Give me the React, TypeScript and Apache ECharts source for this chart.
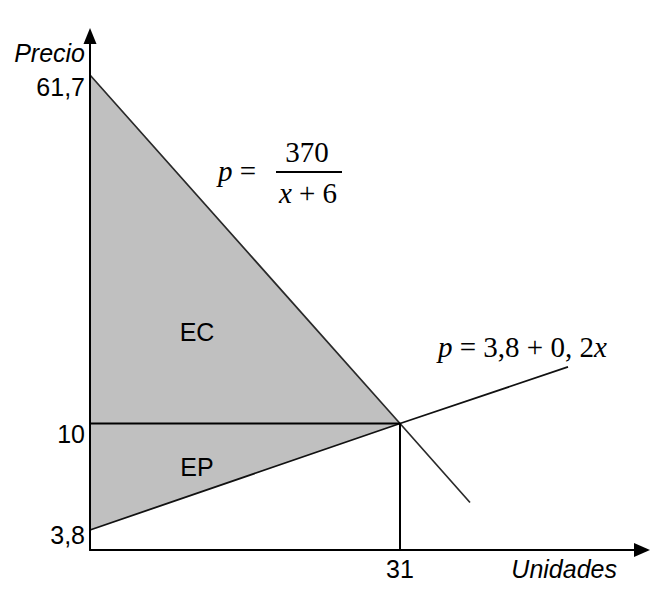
import React, { useEffect, useRef } from 'react';
import * as echarts from 'echarts';

// ---- data ----
const quantityTicks = [31];
const quantityTickLabels = ['31'];
const priceTicks = [3.8, 10, 61.7];
const priceTickLabels = ['3,8', '10', '61,7'];

// demand p = 370/(x+6), drawn schematically as a straight line
const demandQ = [0, 31, 38];
const demandP = [61.7, 10, 5.4];
// supply p = 3,8 + 0,2x
const supplyQ = [0, 31, 47.8];
const supplyP = [3.8, 10, 18.4];

const eqQ = 31;
const eqP = 10;

// The figure is not drawn to scale: piecewise price -> axis-unit mapping
const breakPrice = [0, 3.8, 10, 61.7];
const breakAxis = [0, 20, 126.5, 475];
const yAxisMax = 514;
const xAxisMax = 55.2;

function toAxis(p: number): number {
  const n = breakPrice.length;
  for (let i = 1; i < n; i++) {
    if (p <= breakPrice[i] || i === n - 1) {
      const p0 = breakPrice[i - 1], p1 = breakPrice[i];
      const a0 = breakAxis[i - 1], a1 = breakAxis[i];
      return a0 + ((p - p0) / (p1 - p0)) * (a1 - a0);
    }
  }
  return 0;
}

const SANS = '"Liberation Sans", Arial, sans-serif';
const SERIF = '"Liberation Serif", "Times New Roman", serif';
const LBL = 25;
const FML = 29;

export default function App() {
  const ref = useRef<HTMLDivElement>(null);

  useEffect(() => {
    if (!ref.current) return;
    const chart = echarts.init(ref.current, undefined, { renderer: 'svg' });

    const demandData = demandQ.map((q, i) => [q, toAxis(demandP[i])]);
    const supplyData = supplyQ.map((q, i) => [q, toAxis(supplyP[i])]);
    const guideData = [
      [0, toAxis(eqP)],
      [eqQ, toAxis(eqP)],
      [eqQ, 0],
    ];
    const surplusPoly = [
      [demandQ[0], demandP[0]],
      [eqQ, eqP],
      [supplyQ[0], supplyP[0]],
    ];
    const yLabelVals = priceTicks.map(toAxis);
    const yRichHeights = [9, 21, 24];
    const rich: any = {};
    yRichHeights.forEach((h, i) => {
      rich['t' + i] = { fontSize: LBL, fontFamily: SANS, color: '#000', lineHeight: h };
    });
    const italicRich = { i: { fontStyle: 'italic', fontSize: FML, fontFamily: SERIF, fill: '#000' } };

    const option: any = {
      animation: false,
      backgroundColor: '#ffffff',
      grid: { left: 90, top: 36, width: 552, height: 514, containLabel: false },
      xAxis: {
        type: 'value',
        min: 0,
        max: xAxisMax,
        z: 10,
        splitLine: { show: false },
        axisTick: { show: false },
        axisLine: {
          show: true,
          symbol: ['none', 'triangle'],
          symbolSize: [14, 16],
          lineStyle: { color: '#000', width: 2 },
        },
        axisLabel: {
          customValues: quantityTicks,
          formatter: (v: number) => {
            const i = quantityTicks.findIndex((t) => Math.abs(t - v) < 1e-6);
            return i >= 0 ? quantityTickLabels[i] : '';
          },
          margin: 7,
          fontSize: LBL,
          lineHeight: 24,
          fontFamily: SANS,
          color: '#000',
        },
        name: 'Unidades',
        nameLocation: 'end',
        nameGap: -25,
        nameTextStyle: {
          fontStyle: 'italic',
          fontSize: LBL,
          fontFamily: SANS,
          color: '#000',
          align: 'right',
          verticalAlign: 'top',
          lineHeight: 38,
        },
      },
      yAxis: {
        type: 'value',
        min: 0,
        max: yAxisMax,
        z: 10,
        splitLine: { show: false },
        axisTick: { show: false },
        axisLine: {
          show: true,
          symbol: ['none', 'triangle'],
          symbolSize: [13, 16],
          lineStyle: { color: '#000', width: 2 },
        },
        axisLabel: {
          customValues: yLabelVals,
          formatter: (v: number) => {
            const i = yLabelVals.findIndex((t) => Math.abs(t - v) < 1e-6);
            return i >= 0 ? '{t' + i + '|' + priceTickLabels[i] + '}' : '';
          },
          rich,
          margin: 5,
          verticalAlign: 'top',
          fontSize: LBL,
          fontFamily: SANS,
          color: '#000',
        },
        name: 'Precio',
        nameLocation: 'end',
        nameGap: -17,
        nameTextStyle: {
          fontStyle: 'italic',
          fontSize: LBL,
          fontFamily: SANS,
          color: '#000',
          align: 'right',
          verticalAlign: 'middle',
          padding: [0, 5, 0, 0],
        },
      },
      series: [
        {
          type: 'custom',
          coordinateSystem: 'cartesian2d',
          silent: true,
          z: 1,
          data: [[0, 0]],
          renderItem: (_params: any, api: any) => {
            const pts = surplusPoly.map(([q, p]) => api.coord([q, toAxis(p)]));
            return {
              type: 'polygon',
              shape: { points: pts },
              style: { fill: '#c0c0c0', stroke: 'none' },
            };
          },
        },
        {
          type: 'line',
          data: demandData,
          symbol: 'none',
          z: 3,
          lineStyle: { color: '#2a2a2a', width: 1.7 },
        },
        {
          type: 'line',
          data: supplyData,
          symbol: 'none',
          z: 3,
          lineStyle: { color: '#111', width: 1.8 },
        },
        {
          type: 'line',
          data: guideData,
          symbol: 'none',
          z: 3,
          lineStyle: { color: '#000', width: 2 },
        },
      ],
      graphic: [
        {
          type: 'group',
          z: 100,
          children: [
            {
              type: 'text',
              x: 197,
              y: 332,
              z: 100,
              style: { text: 'EC', fontSize: LBL, fontFamily: SANS, fill: '#000', align: 'center', verticalAlign: 'middle' },
            },
            {
              type: 'text',
              x: 197,
              y: 467,
              z: 100,
              style: { text: 'EP', fontSize: LBL, fontFamily: SANS, fill: '#000', align: 'center', verticalAlign: 'middle' },
            },
            {
              type: 'text',
              x: 218,
              y: 171,
              z: 100,
              style: {
                text: '{i|p} =',
                fontSize: FML,
                fontFamily: SERIF,
                fill: '#000',
                align: 'left',
                verticalAlign: 'middle',
                rich: italicRich,
              },
            },
            {
              type: 'text',
              x: 307,
              y: 152,
              z: 100,
              style: { text: '370', fontSize: FML, fontFamily: SERIF, fill: '#000', align: 'center', verticalAlign: 'middle' },
            },
            {
              type: 'line',
              z: 100,
              shape: { x1: 276, y1: 172, x2: 342, y2: 172 },
              style: { stroke: '#000', lineWidth: 2 },
            },
            {
              type: 'text',
              x: 308,
              y: 193,
              z: 100,
              style: {
                text: '{i|x} + 6',
                fontSize: FML,
                fontFamily: SERIF,
                fill: '#000',
                align: 'center',
                verticalAlign: 'middle',
                rich: italicRich,
              },
            },
            {
              type: 'text',
              x: 438,
              y: 347,
              z: 100,
              style: {
                text: '{i|p} = 3,8 + 0, 2{i|x}',
                fontSize: FML,
                fontFamily: SERIF,
                fill: '#000',
                align: 'left',
                verticalAlign: 'middle',
                rich: italicRich,
              },
            },
          ],
        },
      ],
    };

    chart.setOption(option);
    return () => chart.dispose();
  }, []);

  return (
    <div
      ref={ref}
      style={{ position: 'fixed', left: 0, top: 0, width: 653, height: 594, background: '#fff' }}
    />
  );
}
